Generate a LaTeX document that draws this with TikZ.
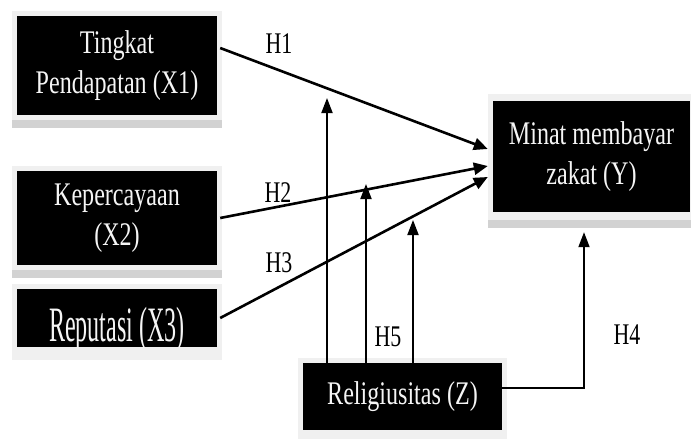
\documentclass[tikz,border=0pt]{standalone}
\usepackage{fontspec}
\setmainfont{Liberation Serif}[FakeStretch=0.73]
\usetikzlibrary{arrows.meta,calc}
\begin{document}
\begin{tikzpicture}[x=1pt,y=-1pt,
  box/.style={fill=black,draw=none,text=gray!8,align=center,inner sep=0pt,
    font=\fontsize{33}{40}\selectfont},
  frame/.style={fill=gray!12,draw=none},
  band/.style={fill=gray!35,draw=none},
  hlab/.style={inner sep=0pt,font=\fontsize{30}{36}\selectfont},
  mainarrow/.style={line width=2.6pt,-{Triangle[length=14pt,width=12pt]}},
  thinarrow/.style={line width=1.8pt,-{Triangle[length=15pt,width=11pt]}}]
\useasboundingbox (0,0) rectangle (691,439);
\fill[white] (0,0) rectangle (691,439);
% frames behind boxes
\fill[frame] (12,11) rectangle (222,128);
\fill[band] (12,120) rectangle (222,128);
\fill[frame] (12,166) rectangle (222,278);
\fill[band] (12,270) rectangle (222,278);
\fill[frame] (12,284) rectangle (222,360);
\fill[frame] (488,94) rectangle (691,228);
\fill[band] (488,220) rectangle (691,228);
\fill[frame] (298,358) rectangle (507,439);
% boxes
\node[box,minimum width=200pt,minimum height=99pt] (x1) at (117,65.5) {Tingkat\\Pendapatan (X1)};
\node[box,minimum width=200pt,minimum height=94pt] (x2) at (117,218) {Kepercayaan\\(X2)};
\node[box,minimum width=200pt,minimum height=58pt] (x3) at (117,318) {};
\begin{scope}
\clip (17,289) rectangle (217,347);
\node[box,fill=none,anchor=base] (x3t) at (117,341) {\scalebox{1}[1.5]{Reputasi (X3)}};
\end{scope}
\node[box,minimum width=197pt,minimum height=111pt] (y) at (591.5,156.5) {Minat membayar\\zakat (Y)};
\node[box,minimum width=199pt,minimum height=67pt] (z) at (402.5,396.5) {Religiusitas (Z)};
% tips of moderating arrows
\coordinate (t1) at (327,98);
\coordinate (t2) at (366,184);
\coordinate (t3) at (413,220);
% main arrows
\draw[mainarrow] ([xshift=3pt,yshift=17.5pt]x1.east) -- ([xshift=-5pt,yshift=7.5pt]y.west);
\draw[mainarrow] ([xshift=3pt]x2.east) -- ([xshift=-5pt,yshift=-9.5pt]y.west);
\draw[mainarrow] ([xshift=3pt]x3.east) -- ([xshift=-5pt,yshift=-20.5pt]y.west);
% moderating arrows
\draw[thinarrow] ([xshift=-75.5pt]z.north) -- (t1);
\draw[thinarrow] ([xshift=-36.5pt]z.north) -- (t2);
\draw[thinarrow] ([xshift=10.5pt]z.north) -- (t3);
\draw[thinarrow,shorten >=20pt] ([yshift=8.5pt]z.east) -| ([xshift=-7.5pt]y.south);
% labels
\node[hlab] (h1) at (279,44) {H1};
\node[hlab] (h2) at (278,193) {H2};
\node[hlab] (h3) at (279,263) {H3};
\node[hlab] (h5) at (388,337) {H5};
\node[hlab] (h4) at (627,335) {H4};
\end{tikzpicture}
\end{document}
